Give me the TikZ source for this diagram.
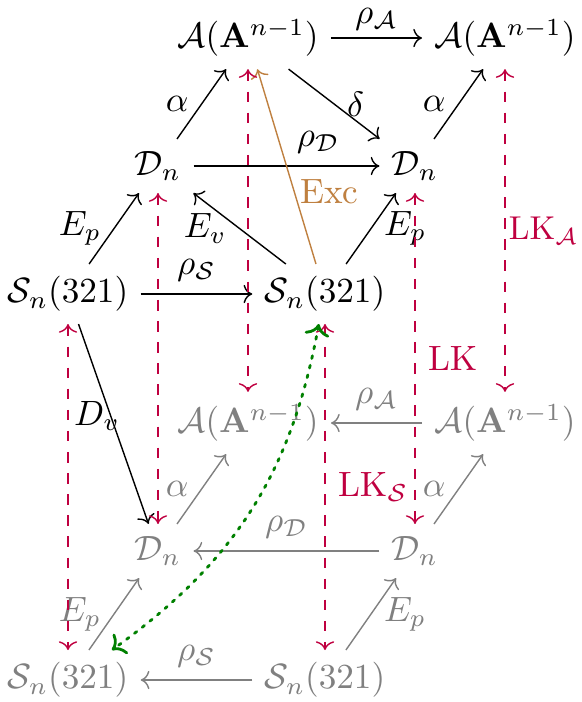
\documentclass[tikz,border=0pt]{standalone}
\usepackage{amsmath,amssymb}
\usepackage{xcolor}
\usepackage{tikz}
\usetikzlibrary{arrows.meta}

\begin{document}
\begin{tikzpicture}[x=0.01cm, y=-0.01cm,
    lk/.style={purple, dashed, <->},
    back/.style={gray},
    lab/.style={inner sep=3.5pt}]
  % scale: 1 unit = 1 px, y grows downwards
  \useasboundingbox (0,0) rectangle (582,702);
  % upper cube face
  \node (A1) at (248, 38)  {$\mathcal{A}(\mathbf{A}^{n-1})$};
  \node (A2) at (505, 38)  {$\mathcal{A}(\mathbf{A}^{n-1})$};
  \node (D1) at (158,166)  {$\mathcal{D}_n$};
  \node (D2) at (415,166)  {$\mathcal{D}_n$};
  \node (S1) at (68, 294)  {$\mathcal{S}_n(321)$};
  \node (S2) at (325,294)  {$\mathcal{S}_n(321)$};
  % lower cube face
  \node[back] (A3) at (248,423) {$\mathcal{A}(\mathbf{A}^{n-1})$};
  \node[back] (A4) at (505,423) {$\mathcal{A}(\mathbf{A}^{n-1})$};
  \node[back] (D3) at (158,551) {$\mathcal{D}_n$};
  \node[back] (D4) at (415,551) {$\mathcal{D}_n$};
  \node[back] (S3) at (68, 680) {$\mathcal{S}_n(321)$};
  \node[back] (S4) at (325,680) {$\mathcal{S}_n(321)$};

  \draw[->] (A1) -- node[above, inner sep=2pt] (lrA) {$\rho_{\mathcal{A}}$} (A2);
  \draw[->] (D1) -- node[lab, left] (la1) {$\alpha$} (A1);
  \draw[->] (A1) -- node[lab, right] (ld) {$\delta$} (D2);
  \draw[->] (D1) -- node[lab, above, pos=0.67] (lrD) {$\rho_{\mathcal{D}}$} (D2);
  \draw[->] (D2) -- node[lab, left] (la2) {$\alpha$} (A2);
  \draw[->] (S1) -- node[lab, left] (lE1) {$E_p$} (D1);
  \draw[->] (S2) -- node[lab, left] (lEv) {$E_v$} (D1);
  \draw[->] (S2) -- node[lab, right] (lE2) {$E_p$} (D2);
  \draw[->] (S1) -- node[lab, above] (lrS) {$\rho_{\mathcal{S}}$} (S2);
  \draw[->] (S1) -- node[pos=0.46, anchor=east, inner sep=0pt, xshift=0.1cm] (lDv) {$D_v$} (D3);
  \draw[->, brown] (S2) -- node[right, pos=0.37, inner sep=1.5pt] (lExc) {Exc} (A1);

  \draw[->, back] (A4) -- node[lab, above] (lrA2) {$\rho_{\mathcal{A}}$} (A3);
  \draw[->, back] (D3) -- node[lab, left] (la3) {$\alpha$} (A3);
  \draw[->, back] (D4) -- node[lab, left] (la4) {$\alpha$} (A4);
  \draw[->, back] (D4) -- node[lab, above] (lrD2) {$\rho_{\mathcal{D}}$} (D3);
  \draw[->, back] (S3) -- node[lab, left] (lE3) {$E_p$} (D3);
  \draw[->, back] (S4) -- node[lab, right] (lE4) {$E_p$} (D4);
  \draw[->, back] (S4) -- node[lab, above] (lrS2) {$\rho_{\mathcal{S}}$} (S3);

  % vertical links between the faces
  \draw[lk] (A1) -- (A3);
  \draw[lk] (A2) -- node[right, inner sep=1pt, scale=0.94] (lLKA) {$\mathrm{LK}_{\mathcal{A}}$} (A4);
  \draw[lk] (D1) -- (D3);
  \draw[lk] (D2) -- node[lab, right] (lLK) {$\mathrm{LK}$} (D4);
  \draw[lk] (S1) -- (S3);
  \draw[lk] (S2) -- node[lab, right] (lLKS) {$\mathrm{LK}_{\mathcal{S}}$} (S4);

  \draw[<->, green!50!black, dotted, line width=0.8pt, line cap=round] (S2) to[bend left=22] (S3);
\end{tikzpicture}
\end{document}
